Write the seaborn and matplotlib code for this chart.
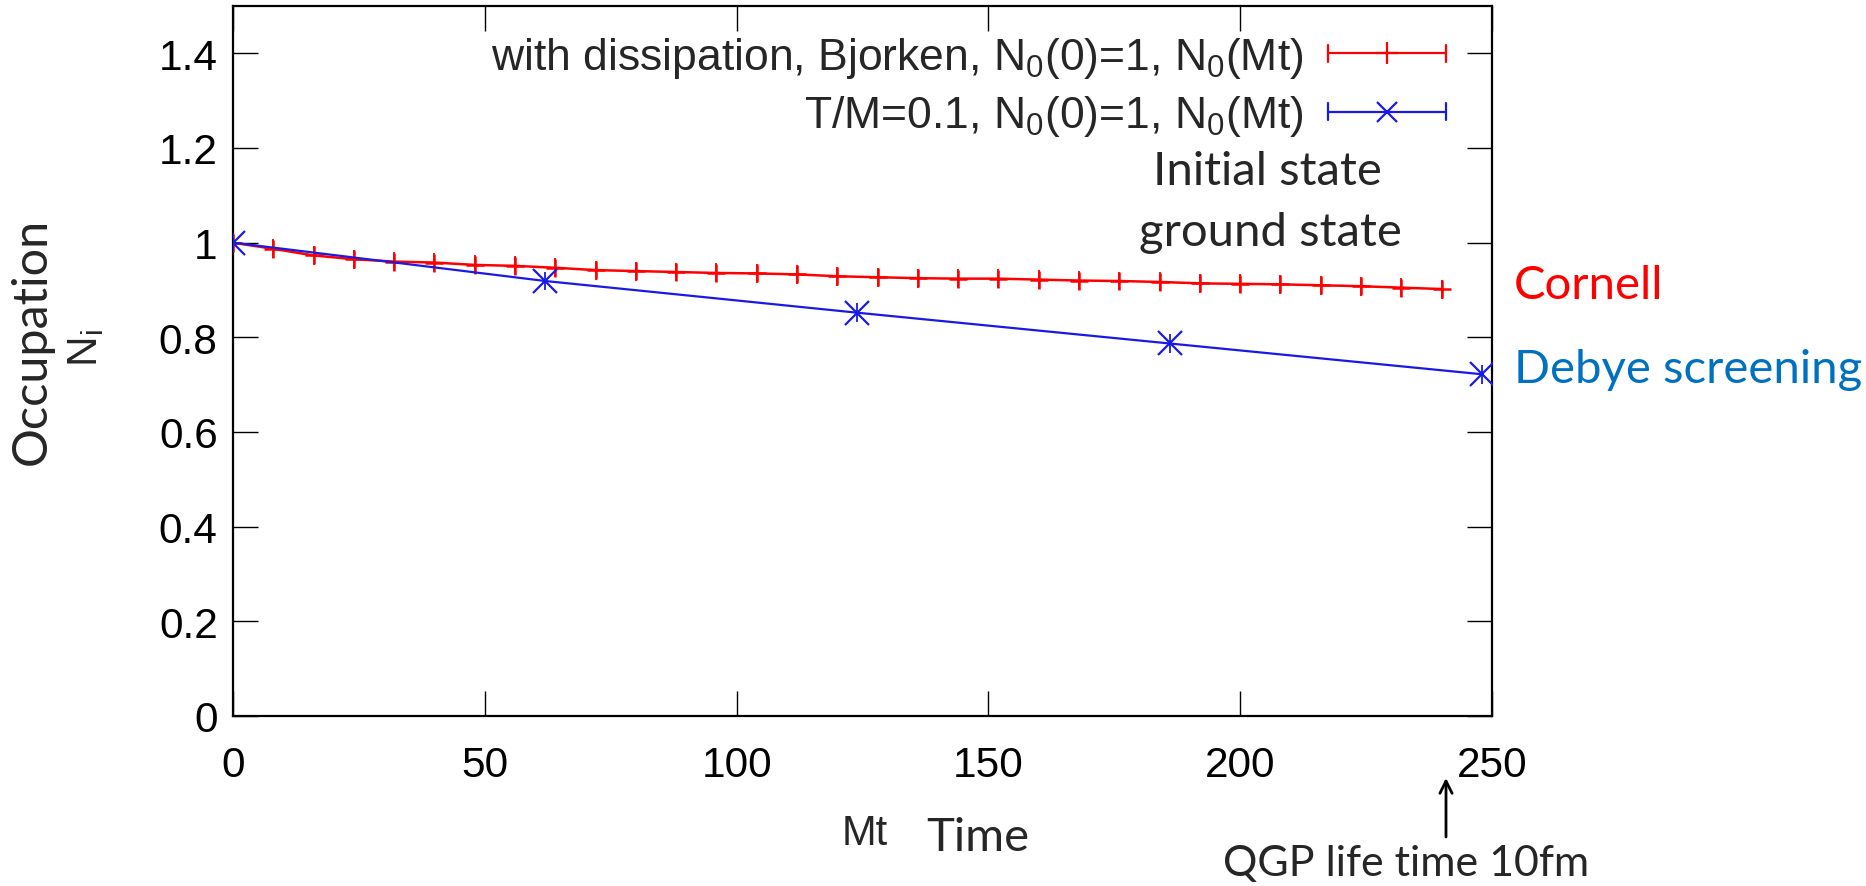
import matplotlib
matplotlib.use("Agg")
import matplotlib.pyplot as plt
import seaborn as sns
import pandas as pd
from matplotlib.lines import Line2D
from matplotlib.legend_handler import HandlerBase

# ---------------- data ----------------
red_t = [0, 8, 16, 24, 32, 40, 48, 56, 64, 72, 80, 88, 96, 104, 112, 120,
         128, 136, 144, 152, 160, 168, 176, 184, 192, 200, 208, 216, 224, 232, 240]
red_n = [1.0, 0.987, 0.973, 0.965, 0.960, 0.958, 0.953, 0.951, 0.947, 0.942,
         0.940, 0.938, 0.936, 0.935, 0.933, 0.929, 0.927, 0.925, 0.924, 0.924,
         0.922, 0.920, 0.919, 0.917, 0.914, 0.913, 0.912, 0.910, 0.908, 0.905, 0.902]
red_err = 0.02

blue_t = [0, 62, 124, 186, 248]
blue_n = [1.0, 0.919, 0.852, 0.787, 0.722]
blue_err = 0.02

red_label = r"with dissipation, Bjorken, $\mathregular{N_0}$(0)=1, $\mathregular{N_0}$(Mt)"
blue_label = r"T/M=0.1, $\mathregular{N_0}$(0)=1, $\mathregular{N_0}$(Mt)"

yticks = [0, 0.2, 0.4, 0.6, 0.8, 1.0, 1.2, 1.4]
ytick_labels = ["0", "0.2", "0.4", "0.6", "0.8", "1", "1.2", "1.4"]
xticks = [0, 50, 100, 150, 200, 250]
xtick_labels = ["0", "50", "100", "150", "200", "250"]

# ---------------- style ----------------
sns.set_theme(style="ticks")
ARIAL = ["Liberation Sans", "DejaVu Sans"]
CALIBRI = ["Lato", "DejaVu Sans"]
plt.rcParams["font.family"] = ARIAL
plt.rcParams["mathtext.fontset"] = "custom"
plt.rcParams["mathtext.rm"] = "Liberation Sans"
plt.rcParams["mathtext.it"] = "Liberation Sans:italic"

RED = "#ff0000"
BLUE = "#1a1ae6"

fig = plt.figure(figsize=(18.66, 8.87), dpi=100)
ax = fig.add_axes([233 / 1866, 1 - 717 / 887, (1492 - 233) / 1866, (717 - 7) / 887])

df_red = pd.DataFrame({"Mt": red_t, "N": red_n})
df_blue = pd.DataFrame({"Mt": blue_t, "N": blue_n})

ax.errorbar(red_t, red_n, yerr=red_err, fmt="none", ecolor=RED, elinewidth=1.3, capsize=0, zorder=2)
sns.lineplot(data=df_red, x="Mt", y="N", ax=ax, color=RED, lw=1.8, marker="+",
             markersize=13, markeredgewidth=1.8, markeredgecolor=RED, legend=False, zorder=3)
ax.errorbar(blue_t, blue_n, yerr=blue_err, fmt="none", ecolor=BLUE, elinewidth=1.3, capsize=0, zorder=4)
sns.lineplot(data=df_blue, x="Mt", y="N", ax=ax, color=BLUE, lw=1.6, marker="x",
             markersize=17, markeredgewidth=1.6, markeredgecolor=BLUE, legend=False, zorder=5)

ax.set_xlim(0, 250)
ax.set_ylim(0, 1.5)
ax.set_xticks(xticks)
ax.set_xticklabels(xtick_labels)
ax.set_yticks(yticks)
ax.set_yticklabels(ytick_labels)
ax.set_xlabel("")
ax.set_ylabel("")
ax.tick_params(direction="in", length=18, width=1.0, top=True, right=True,
               labelsize=30.5, colors="black")
ax.tick_params(axis="x", pad=21)
ax.tick_params(axis="y", pad=11)
for s in ax.spines.values():
    s.set_linewidth(1.6)
    s.set_color("black")
    s.set_visible(True)


# legend with gnuplot-like error-bar samples
class CapLineHandler(HandlerBase):
    def create_artists(self, legend, orig_handle, xdescent, ydescent, width, height,
                       fontsize, trans):
        c = orig_handle.get_color()
        y = height / 2 - ydescent
        x0, x1 = -xdescent, width - xdescent
        h = 6.0
        arts = [Line2D([x0, x1], [y, y], color=c, lw=1.6),
                Line2D([x0, x0], [y - h, y + h], color=c, lw=1.6),
                Line2D([x1, x1], [y - h, y + h], color=c, lw=1.6),
                Line2D([(x0 + x1) / 2], [y], color=c, ls="none",
                       marker=orig_handle.get_marker(), markersize=orig_handle.get_markersize(),
                       markeredgewidth=1.6)]
        for a in arts:
            a.set_transform(trans)
        return arts


h_red = Line2D([], [], color=RED, marker="+", markersize=16)
h_blue = Line2D([], [], color=BLUE, marker="x", markersize=15)
leg = ax.legend([h_red, h_blue], [red_label, blue_label],
                handler_map={Line2D: CapLineHandler()},
                loc="upper right", bbox_to_anchor=(1446 / 1866, 1 - 36 / 887),
                bbox_transform=fig.transFigure, frameon=False, markerfirst=False,
                fontsize=32, handlelength=2.65, handletextpad=0.55,
                labelspacing=0.3, borderpad=0, borderaxespad=0)

# annotations
fig.text(1267 / 1866, 1 - 172 / 887, "Initial state", family=CALIBRI, fontsize=34,
         ha="center", va="center")
fig.text(1270 / 1866, 1 - 233 / 887, "ground state", family=CALIBRI, fontsize=34,
         ha="center", va="center")
fig.text(1514 / 1866, 1 - 286 / 887, "Cornell", family=CALIBRI, fontsize=34,
         color="#ff0000", ha="left", va="center")
fig.text(1514 / 1866, 1 - 370 / 887, "Debye screening", family=CALIBRI, fontsize=34,
         color="#0070c0", ha="left", va="center")
fig.text(32 / 1866, 1 - 341 / 887, "Occupation", family=CALIBRI, fontsize=35,
         rotation=90, ha="center", va="center")
fig.text(86 / 1866, 1 - 348 / 887, r"$\mathregular{N_i}$", family=ARIAL, fontsize=30.5,
         rotation=90, ha="center", va="center")
fig.text(865 / 1866, 1 - 845 / 887, "Mt", family=ARIAL, fontsize=30,
         ha="center", va="baseline")
fig.text(978 / 1866, 1 - 851 / 887, "Time", family=CALIBRI, fontsize=34,
         ha="center", va="baseline")
fig.text(1406 / 1866, 1 - 876 / 887, "QGP life time 10fm", family=CALIBRI, fontsize=31,
         ha="center", va="baseline")
fig.add_artist(matplotlib.patches.FancyArrowPatch(
    (1446 / 1866, 1 - 838 / 887), (1446 / 1866, 1 - 779 / 887),
    transform=fig.transFigure, arrowstyle="->", mutation_scale=22, lw=2.0, color="black",
    shrinkA=0, shrinkB=0))

fig.savefig("out.png", dpi=100)
